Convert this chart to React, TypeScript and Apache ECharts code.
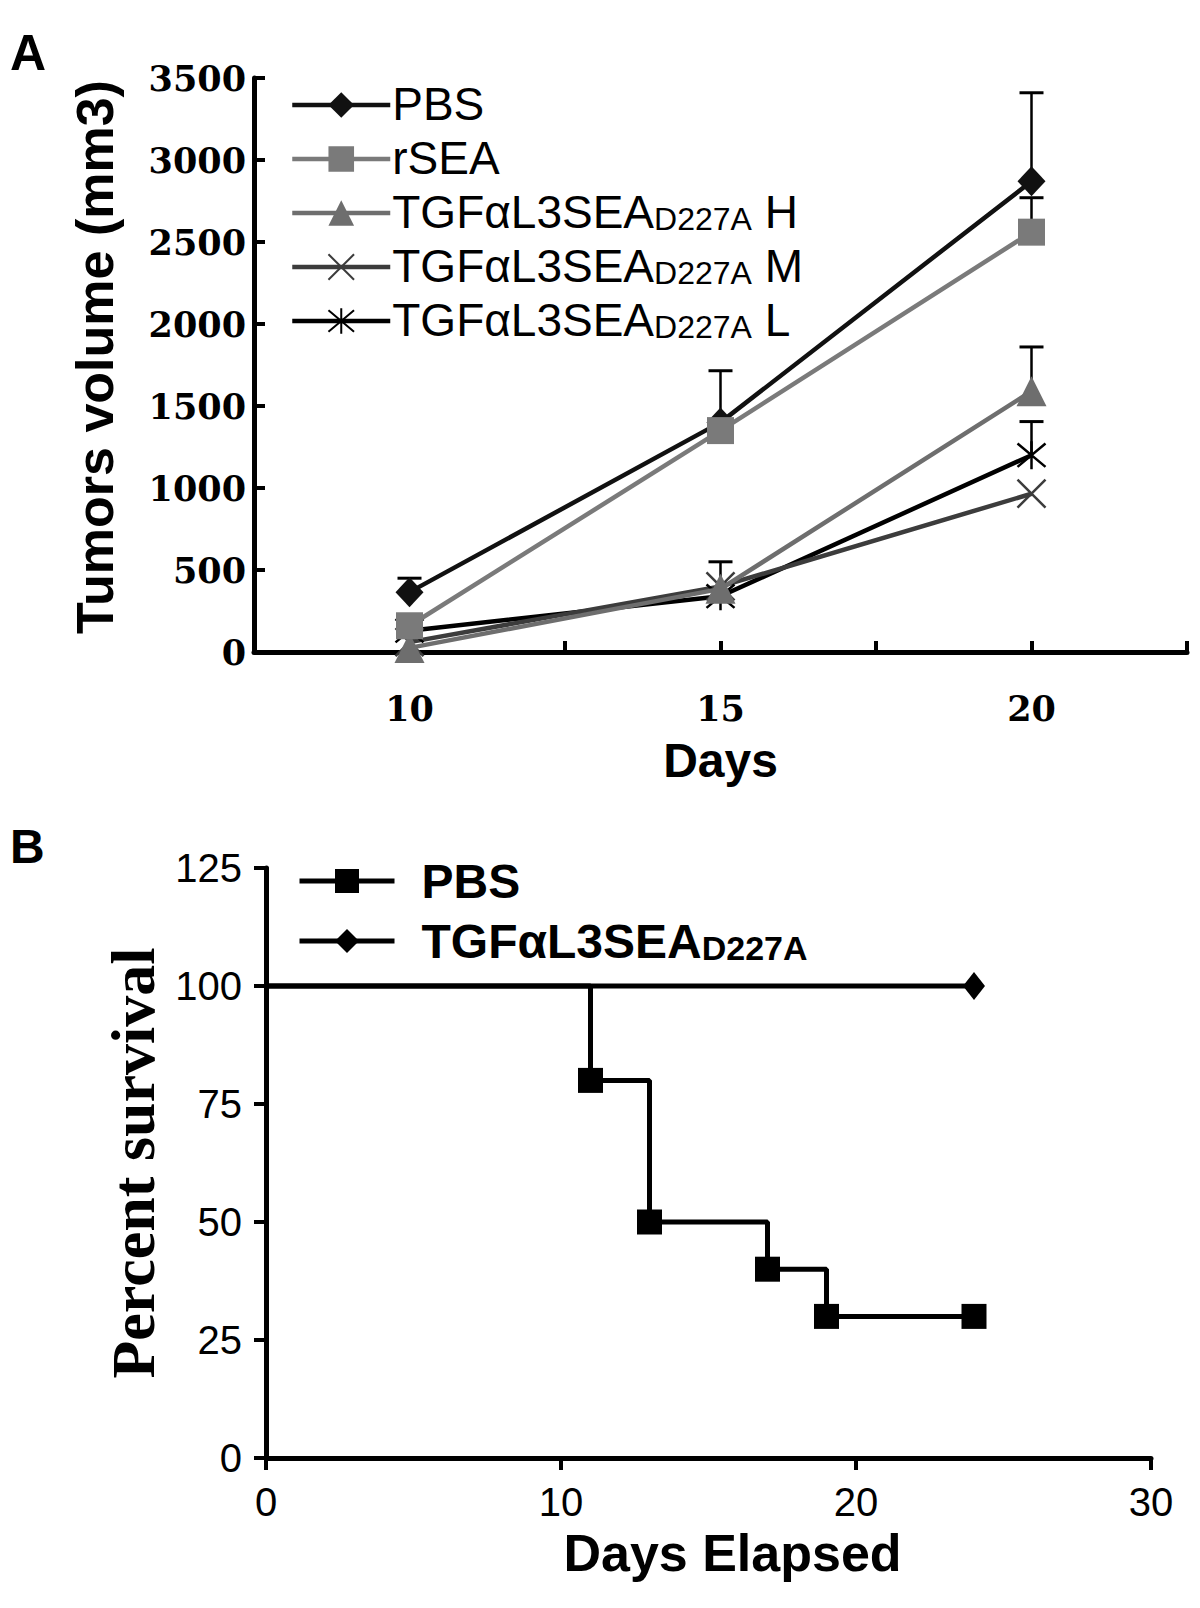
import React, { useEffect, useRef } from "react";
import * as echarts from "echarts";

// ---- Panel A data (tumor volume, mm3) ----
const daysA = [10, 15, 20];
const pbsA = [365, 1400, 2870];
const rseaA = [160, 1350, 2560];
const hA = [25, 385, 1590];
const mA = [60, 400, 965];
const lA = [130, 340, 1200];
// upper ends of error bars (null = none visible)
const pbsErrTop = [450, 1715, 3410];
const rseaErrTop = [null, null, 2770];
const hErrTop = [null, 550, 1860];
const lErrTop = [null, null, 1405];
const yTicksA = [0, 500, 1000, 1500, 2000, 2500, 3000, 3500];
const xLabelsA = [10, 15, 20];

// ---- Panel B data (survival, %) ----
const daysPBS = [0, 11, 13, 17, 19, 24];
const survPBS = [100, 80, 50, 40, 30, 30];
const daysTGF = [0, 24];
const survTGF = [100, 100];

const namesA = ["PBS", "rSEA", "TGFαL3SEAD227A H", "TGFαL3SEAD227A M", "TGFαL3SEAD227A L"];
// internal series ids for panel B (distinct from panel A names), with display labels
const namesB = ["B:PBS", "B:TGFαL3SEAD227A"];

const SANS = "Liberation Sans, Arial, sans-serif";
const SERIF_T = "DejaVu Serif, serif";
const TIMES = "Liberation Serif, Times New Roman, serif";

const X_PATH = "path://M0,0L20,20M20,0L0,20";
const STAR_PATH = "path://M0,0L20,20M20,0L0,20M10,-2L10,22";

function pairs(xs: number[], ys: number[]) {
  return xs.map((x, i) => [x, ys[i]]);
}

function errData(xs: number[], vals: number[], tops: (number | null)[]) {
  const out: number[][] = [];
  xs.forEach((x, i) => {
    const t = tops[i];
    if (t !== null && t !== undefined) out.push([x, vals[i], t]);
  });
  return out;
}

export default function App() {
  const ref = useRef<HTMLDivElement>(null);
  useEffect(() => {
    if (!ref.current) return;
    const chart = echarts.init(ref.current, undefined, { renderer: "svg" });

    const errAll = [
      ...errData(daysA, pbsA, pbsErrTop),
      ...errData(daysA, rseaA, rseaErrTop),
      ...errData(daysA, hA, hErrTop),
      ...errData(daysA, lA, lErrTop),
    ];

    const lineA = (name: string, data: number[], color: string, symbol: string, size: any, stroke: boolean, z: number) => ({
      type: "line",
      name,
      xAxisIndex: 0,
      yAxisIndex: 0,
      data: pairs(daysA, data),
      symbol,
      symbolSize: size,
      showAllSymbol: true,
      z,
      lineStyle: { color, width: 4.5 },
      itemStyle: stroke
        ? { color, borderColor: color, borderWidth: 2.5 }
        : { color, borderWidth: 0 },
      emphasis: { disabled: true },
    });

    const legendFormatter = (raw: string) => {
      const name = raw.startsWith("B:") ? raw.slice(2) : raw;
      if (name.startsWith("TGF")) {
        const suffix = name.slice("TGFαL3SEAD227A".length);
        return `{a|TGFαL3SEA}{b|D227A}{a|${suffix}}`;
      }
      return `{a|${name}}`;
    };

    const option: any = {
      animation: false,
      backgroundColor: "#fff",
      graphic: [
        { type: "text", left: 10, top: 28, style: { text: "A", font: `bold 50px ${SANS}`, fill: "#000" } },
        { type: "text", left: 10, top: 822, style: { text: "B", font: `bold 48px ${SANS}`, fill: "#000" } },
      ],
      legend: [
        {
          orient: "vertical",
          left: 285,
          top: 76,
          itemWidth: 98,
          itemHeight: 32,
          itemGap: 8,
          data: namesA,
          formatter: legendFormatter,
          lineStyle: { width: 4.5 },
          textStyle: {
            color: "#000",
            fontFamily: SANS,
            padding: [0, 0, 0, -3],
            rich: {
              a: { fontSize: 46, fontFamily: SANS, color: "#000", lineHeight: 44, verticalAlign: "bottom" },
              b: { fontSize: 32, fontFamily: SANS, color: "#000", lineHeight: 37, verticalAlign: "bottom" },
            },
          },
          selectedMode: false,
        },
        {
          orient: "vertical",
          left: 292,
          top: 852,
          itemWidth: 95,
          itemHeight: 30,
          itemGap: 12,
          data: namesB,
          formatter: legendFormatter,
          lineStyle: { width: 5 },
          textStyle: {
            color: "#000",
            fontFamily: SANS,
            padding: [0, 0, 0, 22],
            rich: {
              a: { fontSize: 48, fontWeight: "bold", fontFamily: SANS, color: "#000", lineHeight: 48, verticalAlign: "bottom" },
              b: { fontSize: 34, fontWeight: "bold", fontFamily: SANS, color: "#000", lineHeight: 40, verticalAlign: "bottom" },
            },
          },
          selectedMode: false,
        },
      ],
      grid: [
        { left: 254, top: 78, width: 933, height: 574, containLabel: false },
        { left: 266, top: 868, width: 885, height: 590, containLabel: false },
      ],
      xAxis: [
        {
          type: "value",
          gridIndex: 0,
          min: 7.5,
          max: 22.5,
          interval: 2.5,
          name: "Days",
          nameLocation: "middle",
          nameGap: 84,
          nameTextStyle: { fontFamily: SANS, fontWeight: "bold", fontSize: 48, color: "#000" },
          axisLine: { lineStyle: { color: "#000", width: 5 } },
          axisTick: { inside: true, length: 11, lineStyle: { color: "#000", width: 4 } },
          splitLine: { show: false },
          axisLabel: {
            margin: 39,
            fontFamily: SERIF_T,
            fontWeight: "bold",
            fontSize: 35,
            color: "#000",
            formatter: (v: number) => (xLabelsA.indexOf(v) >= 0 ? String(v) : ""),
          },
        },
        {
          type: "value",
          gridIndex: 1,
          min: 0,
          max: 30,
          interval: 10,
          name: "Days Elapsed",
          nameLocation: "middle",
          nameGap: 69,
          nameTextStyle: { fontFamily: SANS, fontWeight: "bold", fontSize: 52, color: "#000", padding: [0, 0, 0, 48] },
          axisLine: { lineStyle: { color: "#000", width: 5 } },
          axisTick: { inside: false, length: 12, lineStyle: { color: "#000", width: 4 } },
          splitLine: { show: false },
          axisLabel: { margin: 24, fontFamily: SANS, fontSize: 40, color: "#000" },
        },
      ],
      yAxis: [
        {
          type: "value",
          gridIndex: 0,
          min: 0,
          max: 3500,
          interval: 500,
          name: "Tumors volume (mm3)",
          nameLocation: "middle",
          nameGap: 133,
          nameTextStyle: { fontFamily: SANS, fontWeight: "bold", fontSize: 52, color: "#000", padding: [0, 0, 0, 16] },
          axisLine: { lineStyle: { color: "#000", width: 5 } },
          axisTick: { inside: true, length: 11, lineStyle: { color: "#000", width: 4 } },
          splitLine: { show: false },
          axisLabel: {
            margin: 8,
            fontFamily: SERIF_T,
            fontWeight: "bold",
            fontSize: 35,
            color: "#000",
            formatter: (v: number) => (yTicksA.indexOf(v) >= 0 ? String(v) : ""),
          },
        },
        {
          type: "value",
          gridIndex: 1,
          min: 0,
          max: 125,
          interval: 25,
          name: "Percent survival",
          nameLocation: "middle",
          nameGap: 82,
          nameTextStyle: { fontFamily: TIMES, fontWeight: "bold", fontSize: 62, color: "#000" },
          axisLine: { lineStyle: { color: "#000", width: 5 } },
          axisTick: { inside: false, length: 12, lineStyle: { color: "#000", width: 4 } },
          splitLine: { show: false },
          axisLabel: { margin: 24, fontFamily: SANS, fontSize: 40, color: "#000" },
        },
      ],
      series: [
        {
          type: "custom",
          name: "err",
          xAxisIndex: 0,
          yAxisIndex: 0,
          z: 1,
          clip: false,
          data: errAll,
          encode: { x: 0, y: [1, 2] },
          renderItem: (params: any, api: any) => {
            const x = api.value(0);
            const v = api.value(1);
            const t = api.value(2);
            const p0 = api.coord([x, v]);
            const p1 = api.coord([x, t]);
            return {
              type: "group",
              children: [
                { type: "line", shape: { x1: p0[0], y1: p0[1], x2: p1[0], y2: p1[1] }, style: { stroke: "#000", lineWidth: 2.5 } },
                { type: "line", shape: { x1: p1[0] - 12, y1: p1[1], x2: p1[0] + 12, y2: p1[1] }, style: { stroke: "#000", lineWidth: 3 } },
              ],
            };
          },
        },
        lineA(namesA[4], lA, "#000000", STAR_PATH, 28, true, 3),
        lineA(namesA[3], mA, "#3c3c3c", X_PATH, 28, true, 3),
        lineA(namesA[2], hA, "#6e6e6e", "triangle", [30, 30], false, 4),
        lineA(namesA[0], pbsA, "#111111", "diamond", [28, 30], false, 5),
        lineA(namesA[1], rseaA, "#7a7a7a", "rect", 27, false, 6),
        {
          type: "line",
          name: namesB[1],
          xAxisIndex: 1,
          yAxisIndex: 1,
          data: pairs(daysTGF, survTGF).map((p, i) => (i === 0 ? { value: p, symbol: "none" } : { value: p })),
          symbol: "diamond",
          symbolSize: [22, 28],
          lineStyle: { color: "#000", width: 5 },
          itemStyle: { color: "#000" },
          emphasis: { disabled: true },
          z: 3,
        },
        {
          type: "line",
          name: namesB[0],
          xAxisIndex: 1,
          yAxisIndex: 1,
          step: "end",
          data: pairs(daysPBS, survPBS).map((p, i) => (i === 0 ? { value: p, symbol: "none" } : { value: p })),
          symbol: "rect",
          symbolSize: 25,
          lineStyle: { color: "#000", width: 5 },
          itemStyle: { color: "#000" },
          emphasis: { disabled: true },
          z: 4,
        },
      ],
    };

    chart.setOption(option);
    return () => chart.dispose();
  }, []);

  return (
    <div
      ref={ref}
      style={{ position: "absolute", left: 0, top: 0, width: 1200, height: 1608, background: "#fff" }}
    />
  );
}
